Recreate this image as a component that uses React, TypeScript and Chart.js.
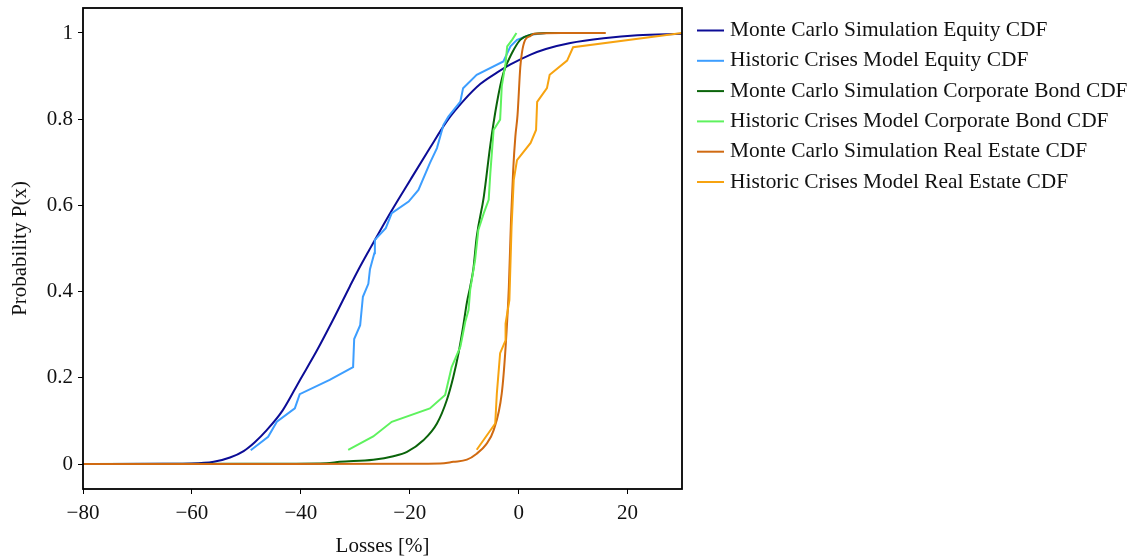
import React, { useEffect, useRef } from "react";
import { Chart, registerables } from "chart.js";

Chart.register(...registerables);

const FONT = "'Liberation Serif', 'DejaVu Serif', serif";

// Series: Monte Carlo Simulation Equity CDF
const mcEquityX = [-80, -65, -60, -56, -53, -50.5, -48.5, -46.3, -43.3, -40.2, -37.1, -34.1, -31.0, -29.5, -27.5, -23.6, -19.9, -16.3, -13.2, -10.1, -7.0, -4.0, -1.5, 2.2, 5, 9.5, 15.6, 21.8, 30];
const mcEquityY = [0, 0.0005, 0.001, 0.005, 0.015, 0.03, 0.05, 0.078, 0.125, 0.194, 0.262, 0.334, 0.412, 0.449, 0.495, 0.582, 0.659, 0.733, 0.795, 0.843, 0.882, 0.908, 0.927, 0.95, 0.963, 0.977, 0.988, 0.995, 0.998];

// Series: Historic Crises Model Equity CDF
const hcEquityX = [-49.2, -46.0, -44.4, -41.1, -40.2, -34.7, -30.4, -30.2, -29.1, -28.6, -27.6, -27.3, -26.5, -26.4, -24.4, -23.3, -20.2, -18.4, -16.3, -15.0, -13.8, -12.9, -10.7, -10.2, -7.7, -2.8, -1.5, -0.3, 2.2, 5];
const hcEquityY = [0.032, 0.063, 0.098, 0.129, 0.162, 0.195, 0.225, 0.29, 0.322, 0.388, 0.418, 0.452, 0.489, 0.52, 0.547, 0.582, 0.609, 0.636, 0.698, 0.733, 0.787, 0.806, 0.841, 0.872, 0.903, 0.934, 0.969, 0.984, 0.996, 1.0];

// Series: Monte Carlo Simulation Corporate Bond CDF
const mcBondX = [-80, -50, -35.3, -32.9, -26.7, -23, -20.5, -17.5, -15.0, -13.2, -12.0, -11.0, -10.2, -9.5, -8.9, -8.3, -7.7, -6.4, -5.2, -4.0, -2.8, -1.2, 0.3, 2.2, 5.2, 8];
const mcBondY = [0, 0.0005, 0.002, 0.005, 0.01, 0.018, 0.028, 0.055, 0.094, 0.148, 0.202, 0.26, 0.318, 0.375, 0.411, 0.454, 0.527, 0.62, 0.74, 0.837, 0.907, 0.954, 0.984, 0.996, 1.0, 1.0];

// Series: Historic Crises Model Corporate Bond CDF
const hcBondX = [-31.3, -26.7, -23.3, -16.3, -13.5, -12.3, -10.7, -9.8, -9.2, -8.9, -8.0, -7.4, -6.4, -5.5, -5.2, -4.6, -3.4, -3.1, -2.4, -2.1, -1.2, -0.4];
const hcBondY = [0.033, 0.064, 0.098, 0.129, 0.16, 0.225, 0.272, 0.33, 0.357, 0.404, 0.473, 0.543, 0.582, 0.613, 0.675, 0.775, 0.799, 0.876, 0.93, 0.969, 0.984, 1.0];

// Series: Monte Carlo Simulation Real Estate CDF
const mcRealX = [-80, -20, -14.4, -12.0, -9.5, -7.7, -6.0, -4.6, -3.1, -2.4, -1.8, -1.4, -1.0, -0.6, -0.2, 0.3, 0.6, 1.2, 2.2, 2.8, 8, 16];
const mcRealY = [0, 0.0005, 0.001, 0.005, 0.01, 0.024, 0.045, 0.078, 0.164, 0.27, 0.41, 0.566, 0.682, 0.76, 0.81, 0.92, 0.954, 0.984, 0.993, 0.998, 1.0, 1.0];

// Series: Historic Crises Model Real Estate CDF
const hcRealX = [-7.7, -4.3, -4.0, -3.4, -2.4, -2.4, -1.7, -1.3, -0.9, -0.3, 2.2, 3.2, 3.4, 5.2, 5.7, 8.9, 10.0, 30];
const hcRealY = [0.033, 0.094, 0.164, 0.257, 0.287, 0.326, 0.38, 0.55, 0.659, 0.705, 0.745, 0.775, 0.84, 0.872, 0.903, 0.936, 0.967, 1.0];

const seriesLabels = [
  "Monte Carlo Simulation Equity CDF",
  "Historic Crises Model Equity CDF",
  "Monte Carlo Simulation Corporate Bond CDF",
  "Historic Crises Model Corporate Bond CDF",
  "Monte Carlo Simulation Real Estate CDF",
  "Historic Crises Model Real Estate CDF",
];
const seriesColors = ["#0c0c96", "#3d9eff", "#0a640a", "#5ef25e", "#d06a12", "#f7a310"];
const seriesSmooth = [true, false, true, false, true, false];

const xTickValues = [-80, -60, -40, -20, 0, 20];
const xTickLabels = ["\u221280", "\u221260", "\u221240", "\u221220", "0", "20"];
const yTickValues = [0, 0.2, 0.4, 0.6, 0.8, 1];
const yTickLabels = ["0", "0.2", "0.4", "0.6", "0.8", "1"];

const xLimits = [-80, 30];
const yLimits = [-0.058, 1.058];

const xTitle = "Losses [%]";
const yTitle = "Probability P(x)";

const allX = [mcEquityX, hcEquityX, mcBondX, hcBondX, mcRealX, hcRealX];
const allY = [mcEquityY, hcEquityY, mcBondY, hcBondY, mcRealY, hcRealY];

const framePlugin = {
  id: "frame",
  afterDatasetsDraw(chart: any) {
    const { ctx, chartArea } = chart;
    ctx.save();
    ctx.strokeStyle = "#000";
    ctx.lineWidth = 1.8;
    ctx.strokeRect(chartArea.left, chartArea.top, chartArea.right - chartArea.left, chartArea.bottom - chartArea.top);
    ctx.restore();
  },
};

const legendPlugin = {
  id: "customLegend",
  afterDraw(chart: any) {
    const { ctx, chartArea } = chart;
    const x0 = chartArea.right + 15;
    const y0 = chartArea.top + 22.5;
    const step = 30.3;
    ctx.save();
    ctx.font = `21.4px ${FONT}`;
    ctx.textBaseline = "middle";
    ctx.textAlign = "left";
    seriesLabels.forEach((lab, i) => {
      const y = y0 + i * step;
      ctx.strokeStyle = seriesColors[i];
      ctx.lineWidth = 2;
      ctx.beginPath();
      ctx.moveTo(x0, y);
      ctx.lineTo(x0 + 27, y);
      ctx.stroke();
      ctx.fillStyle = "#111";
      ctx.fillText(lab, x0 + 33, y);
    });
    ctx.restore();
  },
};

export default function App() {
  const ref = useRef<HTMLCanvasElement | null>(null);
  useEffect(() => {
    if (!ref.current) return;
    const datasets = seriesLabels.map((label, i) => ({
      label,
      data: allX[i].map((x, j) => ({ x, y: allY[i][j] })),
      borderColor: seriesColors[i],
      backgroundColor: seriesColors[i],
      borderWidth: 2,
      pointRadius: 0,
      fill: false,
      cubicInterpolationMode: seriesSmooth[i] ? ("monotone" as const) : ("default" as const),
      tension: 0,
      order: 10 - i,
    }));
    const chart = new Chart(ref.current, {
      type: "line",
      data: { datasets },
      options: {
        animation: false,
        responsive: true,
        maintainAspectRatio: false,
        layout: { padding: { left: 0, top: 8, right: 452, bottom: 0 } },
        plugins: { legend: { display: false }, tooltip: { enabled: false } },
        scales: {
          x: {
            type: "linear",
            min: xLimits[0],
            max: xLimits[1],
            afterFit: (s: any) => { s.height = 70; s.paddingLeft = 0; s.paddingRight = 0; },
            afterBuildTicks: (s: any) => { s.ticks = xTickValues.map((v) => ({ value: v })); },
            ticks: {
              callback: (_v: any, i: number) => xTickLabels[i],
              font: { family: FONT, size: 21, lineHeight: 1.2 },
              color: "#111",
              padding: 7,
              maxRotation: 0,
              autoSkip: false,
            },
            grid: { display: true, drawOnChartArea: false, drawTicks: true, tickLength: 5, tickColor: "#000", tickWidth: 1 },
            border: { display: false },
            title: { display: true, text: xTitle, color: "#111", font: { family: FONT, size: 21, lineHeight: 1.2 }, padding: { top: 0, bottom: 0 } },
          },
          y: {
            type: "linear",
            min: yLimits[0],
            max: yLimits[1],
            afterFit: (s: any) => { s.width = 83; s.paddingTop = 0; s.paddingBottom = 0; },
            afterBuildTicks: (s: any) => { s.ticks = yTickValues.map((v) => ({ value: v })); },
            ticks: {
              callback: (_v: any, i: number) => yTickLabels[i],
              font: { family: FONT, size: 21, lineHeight: 1.2 },
              color: "#111",
              padding: 5,
              autoSkip: false,
            },
            grid: { display: true, drawOnChartArea: false, drawTicks: true, tickLength: 5, tickColor: "#000", tickWidth: 1 },
            border: { display: false },
            title: { display: true, text: yTitle, color: "#111", font: { family: FONT, size: 21, lineHeight: 1.2 }, padding: { top: 8, bottom: 0 } },
          },
        },
      },
      plugins: [framePlugin, legendPlugin],
    });
    return () => chart.destroy();
  }, []);
  return (
    <div style={{ position: "fixed", left: 0, top: 0, width: 1134, height: 559, background: "#fff" }}>
      <canvas ref={ref} />
    </div>
  );
}
